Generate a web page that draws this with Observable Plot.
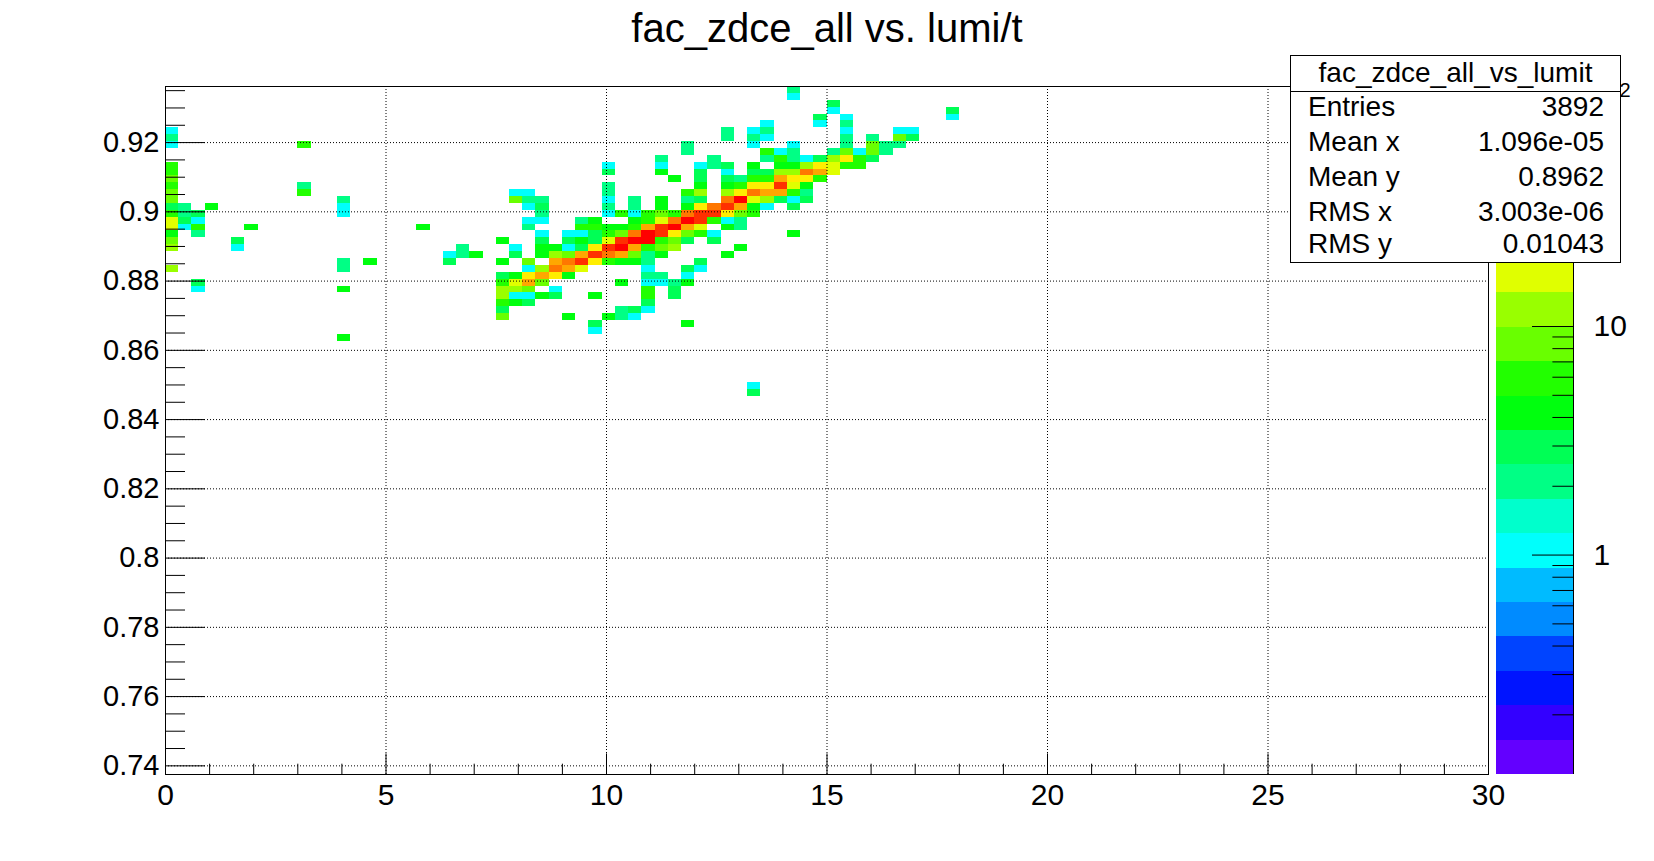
<!DOCTYPE html>
<html>
<head>
<meta charset="utf-8">
<script src="https://cdn.jsdelivr.net/npm/d3@7"></script>
<script src="https://cdn.jsdelivr.net/npm/@observablehq/plot@0.6"></script>
<style>
  html, body { margin: 0; padding: 0; background: #fff; overflow: hidden; }
  #fig { position: relative; width: 1654px; height: 861px; overflow: hidden; background: #fff;
         font-family: "Liberation Sans", Arial, Helvetica, sans-serif; color: #000; }
  #fig svg { position: absolute; top: 0; }
  #title { position: absolute; top: 8px; left: 0; width: 1654px; text-align: center;
           font-size: 40px; line-height: 40px; white-space: nowrap; }
  #stats { position: absolute; left: 1290px; top: 55px; width: 331px; height: 208px; box-sizing: border-box;
           border: 1px solid #000; background: #fff; z-index: 5; }
  #stats .hdr { position: absolute; left: 0; right: 0; top: 2.6px; text-align: center; font-size: 28px; line-height: 28px; }
  #stats .sep { position: absolute; left: 0; right: 0; top: 34.7px; border-top: 1px solid #000; }
  #stats .row { position: absolute; left: 17px; right: 16px; font-size: 28px; line-height: 28px;
                display: flex; justify-content: space-between; white-space: nowrap; }
</style>
</head>
<body>
<div id="fig">
  <div id="title"></div>
  <div id="stats"></div>
</div>
<script>
// ---------------- data ----------------
const titleText = "fac_zdce_all vs. lumi/t";
const histName = "fac_zdce_all_vs_lumit";
const statLabels = ["Entries", "Mean x", "Mean y", "RMS x", "RMS y"];
const statValues = ["3892", "1.096e-05", "0.8962", "3.003e-06", "0.01043"];

// histogram binning (lumi/t on x, fac_zdce_all on y)
const xMin = 0, xMax = 30, nBinsX = 100;
const yMin = 0.7375, yMax = 0.9362, nBinsY = 100;

// non-empty cells: [x bin index, y bin index, entries]
const cells = [
  [47,99,2],
  [47,98,1],
  [50,97,3],
  [50,96,1],[59,96,3],
  [49,95,3],[51,95,1],[59,95,1],
  [45,94,1],[49,94,1],[51,94,2],
  [0,93,1],[42,93,2],[44,93,1],[45,93,2],[51,93,1],[55,93,1],[56,93,1],
  [0,92,2],[42,92,2],[44,92,2],[45,92,1],[51,92,2],[53,92,2],[55,92,8],[56,92,3],
  [0,91,1],[10,91,6],[39,91,2],[44,91,1],[47,91,1],[51,91,2],[53,91,8],[54,91,2],[55,91,2],
  [39,90,2],[45,90,6],[46,90,1],[47,90,2],[50,90,2],[51,90,8],[52,90,1],[53,90,8],[54,90,2],
  [37,89,2],[41,89,2],[45,89,2],[46,89,6],[47,89,2],[48,89,1],[49,89,3],[50,89,12],[51,89,23],[52,89,6],[53,89,3],
  [0,88,6],[33,88,1],[37,88,1],[40,88,1],[41,88,2],[42,88,3],[44,88,4],[46,88,4],[47,88,4],[48,88,12],[49,88,23],[50,88,17],[51,88,6],[52,88,6],
  [0,87,6],[33,87,3],[37,87,4],[40,87,3],[42,87,1],[44,87,3],[45,87,3],[46,87,12],[47,87,12],[48,87,47],[49,87,33],[50,87,17],
  [0,86,8],[38,86,4],[40,86,3],[42,86,3],[43,86,2],[44,86,6],[45,86,6],[46,86,33],[47,86,23],[48,86,23],[49,86,6],
  [0,85,6],[10,85,2],[33,85,2],[40,85,4],[42,85,4],[43,85,6],[44,85,23],[45,85,23],[46,85,66],[47,85,17],[48,85,4],
  [0,84,8],[10,84,6],[26,84,1],[27,84,1],[33,84,2],[39,84,6],[40,84,12],[42,84,12],[43,84,23],[44,84,47],[45,84,33],[46,84,33],[47,84,6],[48,84,2],
  [0,83,8],[13,83,2],[26,83,8],[27,83,2],[28,83,2],[33,83,1],[35,83,2],[37,83,4],[39,83,2],[40,83,3],[42,83,47],[43,83,92],[44,83,17],[45,83,12],[46,83,3],[47,83,1],[48,83,3],
  [0,82,3],[1,82,2],[3,82,4],[13,82,1],[27,82,1],[28,82,3],[33,82,2],[35,82,2],[37,82,4],[39,82,4],[40,82,23],[41,82,47],[42,82,66],[43,82,33],[44,82,4],[45,82,1],[47,82,3],
  [0,81,6],[1,81,2],[2,81,3],[13,81,1],[28,81,2],[33,81,1],[34,81,6],[35,81,1],[36,81,6],[37,81,8],[38,81,6],[39,81,47],[40,81,66],[41,81,66],[42,81,23],[43,81,8],[44,81,6],
  [0,80,17],[1,80,3],[2,80,1],[27,80,1],[28,80,1],[31,80,2],[32,80,4],[35,80,4],[36,80,6],[37,80,17],[38,80,47],[39,80,92],[40,80,66],[41,80,6],[42,80,1],[43,80,2],
  [0,79,17],[1,79,1],[2,79,6],[6,79,4],[19,79,4],[27,79,2],[31,79,6],[32,79,6],[33,79,4],[34,79,4],[35,79,6],[36,79,33],[37,79,66],[38,79,92],[39,79,33],[40,79,17],[42,79,4],[43,79,2],
  [0,78,4],[2,78,2],[28,78,1],[30,78,1],[31,78,1],[32,78,3],[33,78,6],[34,78,8],[35,78,47],[36,78,92],[37,78,66],[38,78,23],[39,78,8],[40,78,6],[41,78,1],[47,78,4],
  [0,77,8],[5,77,3],[25,77,4],[28,77,3],[30,77,3],[31,77,4],[32,77,3],[33,77,17],[34,77,66],[35,77,92],[36,77,92],[37,77,6],[38,77,8],[39,77,3],[41,77,3],
  [0,76,12],[5,76,1],[22,76,2],[26,76,1],[28,76,4],[29,76,4],[30,76,1],[31,76,3],[32,76,23],[33,76,66],[34,76,92],[35,76,33],[36,76,6],[37,76,8],[38,76,12],[43,76,4],
  [21,75,1],[22,75,2],[23,75,4],[26,75,3],[28,75,4],[29,75,12],[30,75,8],[31,75,33],[32,75,66],[33,75,47],[34,75,33],[35,75,8],[36,75,2],[37,75,4],[42,75,4],
  [13,74,2],[15,74,4],[21,74,3],[25,74,4],[27,74,8],[29,74,33],[30,74,47],[31,74,66],[32,74,23],[33,74,6],[34,74,4],[35,74,4],[36,74,2],[40,74,3],
  [0,73,12],[13,73,2],[27,73,1],[28,73,12],[29,73,47],[30,73,33],[31,73,17],[36,73,1],[39,73,3],[40,73,1],
  [25,72,3],[26,72,4],[27,72,23],[28,72,33],[29,72,23],[30,72,4],[36,72,2],[37,72,2],[39,72,1],
  [2,71,3],[25,71,6],[26,71,17],[27,71,33],[28,71,8],[34,71,4],[36,71,1],[37,71,1],[38,71,2],[39,71,4],
  [2,70,1],[13,70,4],[25,70,12],[26,70,12],[27,70,8],[29,70,1],[36,70,6],[38,70,3],
  [25,69,12],[26,69,1],[27,69,1],[28,69,4],[29,69,3],[32,69,4],[36,69,6],[38,69,3],
  [25,68,6],[26,68,4],[27,68,3],[36,68,3],
  [25,67,3],[34,67,2],[35,67,3],[36,67,1],
  [25,66,8],[30,66,4],[33,66,4],[34,66,2],[35,66,1],
  [32,65,3],[39,65,4],
  [32,64,1],
  [13,63,4],
  [44,56,1],
  [44,55,3]
];

// axis ticks and labels
const xTicks = [0, 5, 10, 15, 20, 25, 30];
const xGrid = [5, 10, 15, 20, 25];
const yTicks = [0.74, 0.76, 0.78, 0.8, 0.82, 0.84, 0.86, 0.88, 0.9, 0.92];
const zMajorTicks = [1, 10, 100];
const zLabels = ["1", "10"];
const zTopExponent = "2";   // visible part of the 10^2 label (its "10" lies under the stats box)

// log z range of the colour axis
const zLogMin = -0.96, zLogMax = 2.05, nLevels = 20;

// ---------------- styles / layout ----------------
// ROOT "pretty palette" sampled at 20 contour levels (violet -> red)
const palette = ["#6300ff","#3300ff","#0014ff","#0044ff","#008bff","#00bbff","#00fffc","#00ffcc","#00ff85","#00ff55",
                 "#00ff0e","#22ff00","#69ff00","#99ff00","#e0ff00","#ffee00","#ffa700","#ff7700","#ff3000","#ff0000"];
const W = 1654, H = 861;
const frameL = 165, frameR = 1488, frameT = 86, frameB = 774;
const frameW = frameR - frameL, frameH = frameB - frameT;
const font = "'Liberation Sans', Arial, Helvetica, sans-serif";

// ---------------- build ----------------
const dxBin = (xMax - xMin) / nBinsX, dyBin = (yMax - yMin) / nBinsY;
const table = cells.map(([ix, iy, n]) => ({
  x1: xMin + ix * dxBin, x2: xMin + (ix + 1) * dxBin,
  y1: yMin + iy * dyBin, y2: yMin + (iy + 1) * dyBin, n
}));
const dl = (zLogMax - zLogMin) / nLevels;
const thresholds = d3.range(1, nLevels).map(k => Math.pow(10, zLogMin + k * dl));
const bands = d3.range(nLevels).map(k => ({lo: Math.pow(10, zLogMin + k * dl), hi: Math.pow(10, zLogMin + (k + 1) * dl), color: palette[k]}));

const xMinor = d3.range(1, 30).filter(v => v % 5 !== 0);
const yMinor = d3.range(0, 40).map(k => +(0.74 + k * 0.005).toFixed(3)).filter(v => v < yMax && Math.round(v * 1000) % 20 !== 0);
const zMinor = [];
for (const dec of [0.1, 1, 10]) for (let m = 2; m <= 9; m++) { const v = +(m * dec).toPrecision(3); if (Math.log10(v) > zLogMin && Math.log10(v) < zLogMax) zMinor.push(v); }

const dotted = {stroke: "black", strokeWidth: 1, strokeDasharray: "1,2"};

const main = Plot.plot({
  width: W, height: H,
  marginLeft: frameL, marginRight: W - frameR, marginTop: frameT, marginBottom: H - frameB,
  style: {fontFamily: font, fontSize: "30px", background: "transparent", color: "black", overflow: "visible"},
  x: {domain: [xMin, xMax], label: null},
  y: {domain: [yMin, yMax], label: null},
  color: {type: "threshold", domain: thresholds, range: palette},
  marks: [
    Plot.rect(table, {x1: "x1", x2: "x2", y1: "y1", y2: "y2", fill: "n", shapeRendering: "crispEdges"}),
    Plot.ruleX(xGrid, {x: d => d, ...dotted}),
    Plot.ruleY(yTicks, {y: d => d, ...dotted}),
    Plot.tickX(xTicks, {x: d => d, stroke: "black", insetTop: frameH - 20.6}),
    Plot.tickX(xMinor, {x: d => d, stroke: "black", insetTop: frameH - 10.3}),
    Plot.tickY(yTicks, {y: d => d, stroke: "black", insetRight: frameW - 40}),
    Plot.tickY(yMinor, {y: d => d, stroke: "black", insetRight: frameW - 20}),
    Plot.frame({stroke: "black"}),
    Plot.axisX(xTicks, {tickSize: 0, tickPadding: 9, fontSize: 30, label: null, tickFormat: d => String(d)}),
    Plot.axisY(yTicks, {tickSize: 0, tickPadding: 6, fontSize: 29, label: null, tickFormat: d => String(d)})
  ]
});
main.style.left = "0px";

const cbLeft = 1400, cbX0 = 1496, cbX1 = 1573, cbWidth = 254;
const cb = Plot.plot({
  width: cbWidth, height: H,
  marginLeft: cbX0 - cbLeft, marginRight: cbLeft + cbWidth - cbX1, marginTop: frameT, marginBottom: H - frameB,
  style: {fontFamily: font, fontSize: "30px", background: "transparent", color: "black", overflow: "visible"},
  x: {domain: [0, 1], axis: null},
  y: {type: "log", domain: [Math.pow(10, zLogMin), Math.pow(10, zLogMax)], axis: null},
  color: {type: "identity"},
  marks: [
    Plot.rect(bands, {x1: () => 0, x2: () => 1, y1: "lo", y2: "hi", fill: "color", shapeRendering: "crispEdges"}),
    Plot.tickY(zMajorTicks, {y: d => d, stroke: "black", insetLeft: (cbX1 - cbX0) - 41}),
    Plot.tickY(zMinor, {y: d => d, stroke: "black", insetLeft: (cbX1 - cbX0) - 20.6}),
    Plot.ruleX([1], {x: d => d, stroke: "black"}),
    Plot.text(zLabels, {y: d => +d, text: d => d, frameAnchor: "right", dx: 20, textAnchor: "start", fontSize: 30}),
    Plot.text([zTopExponent], {y: () => 100, text: d => d, frameAnchor: "right", dx: 46, dy: -7, textAnchor: "start", fontSize: 20})
  ]
});
cb.style.left = cbLeft + "px";

const fig = document.getElementById("fig");
fig.appendChild(main);
fig.appendChild(cb);
document.getElementById("title").textContent = titleText;

const stats = document.getElementById("stats");
const hdr = document.createElement("div"); hdr.className = "hdr"; hdr.textContent = histName; stats.appendChild(hdr);
const sep = document.createElement("div"); sep.className = "sep"; stats.appendChild(sep);
const rowTops = [37, 72, 107, 142, 174];
statLabels.forEach((lab, i) => {
  const r = document.createElement("div"); r.className = "row"; r.style.top = rowTops[i] + "px";
  const a = document.createElement("span"); a.textContent = lab;
  const b = document.createElement("span"); b.textContent = statValues[i];
  r.appendChild(a); r.appendChild(b); stats.appendChild(r);
});
</script>
</body>
</html>
